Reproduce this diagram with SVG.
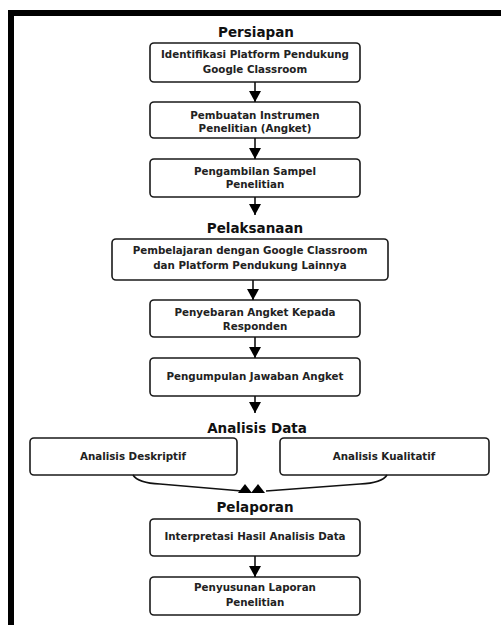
<svg xmlns="http://www.w3.org/2000/svg" width="501" height="625" viewBox="0 0 501 625">
<defs>
<style>
.box{fill:#fff;stroke:#1a1a1a;stroke-width:1.6}
.t{font-family:"DejaVu Sans","Liberation Sans",sans-serif;font-size:10.3px;font-weight:bold;fill:#222;text-anchor:middle}
.h{font-family:"DejaVu Sans","Liberation Sans",sans-serif;font-size:13.5px;font-weight:bold;fill:#111;text-anchor:middle}
.c{fill:none;stroke:#111;stroke-width:1.6}
</style>
<marker id="ah" markerUnits="userSpaceOnUse" markerWidth="12" markerHeight="12" refX="11" refY="6" orient="auto">
<path d="M0,0 L11,6 L0,12 z" fill="#000"/>
</marker>
</defs>
<rect width="501" height="625" fill="#fff"/>
<g id="frame">
<path d="M8,13 H501" stroke="#000" stroke-width="6"/>
<path d="M11,10 V625" stroke="#000" stroke-width="6"/>
</g>
<g id="headings">
<text class="h" x="256" y="37">Persiapan</text>
<text class="h" x="255" y="233">Pelaksanaan</text>
<text class="h" x="257" y="433">Analisis Data</text>
<text class="h" x="255" y="512">Pelaporan</text>
</g>
<g id="n1"><rect class="box" x="150" y="43" width="210" height="39" rx="4"/><text class="t" x="255" y="58">Identifikasi Platform Pendukung</text><text class="t" x="255" y="73">Google Classroom</text></g>
<g id="n2"><rect class="box" x="150" y="102" width="210" height="36" rx="4"/><text class="t" x="255" y="119">Pembuatan Instrumen</text><text class="t" x="255" y="132">Penelitian (Angket)</text></g>
<g id="n3"><rect class="box" x="150" y="159" width="210" height="38" rx="4"/><text class="t" x="255" y="175">Pengambilan Sampel</text><text class="t" x="255" y="188">Penelitian</text></g>
<g id="n4"><rect class="box" x="112" y="239" width="276" height="41" rx="4"/><text class="t" x="250" y="254">Pembelajaran dengan Google Classroom</text><text class="t" x="250" y="269">dan Platform Pendukung Lainnya</text></g>
<g id="n5"><rect class="box" x="150" y="300" width="210" height="37" rx="4"/><text class="t" x="255" y="316">Penyebaran Angket Kepada</text><text class="t" x="255" y="330">Responden</text></g>
<g id="n6"><rect class="box" x="150" y="358" width="210" height="38" rx="4"/><text class="t" x="255" y="380">Pengumpulan Jawaban Angket</text></g>
<g id="n7"><rect class="box" x="30" y="438" width="207" height="37" rx="4"/><text class="t" x="133" y="460">Analisis Deskriptif</text></g>
<g id="n8"><rect class="box" x="280" y="438" width="209" height="37" rx="4"/><text class="t" x="384" y="460">Analisis Kualitatif</text></g>
<g id="n9"><rect class="box" x="150" y="519" width="210" height="37" rx="4"/><text class="t" x="255" y="540">Interpretasi Hasil Analisis Data</text></g>
<g id="n10"><rect class="box" x="150" y="577" width="210" height="38" rx="4"/><text class="t" x="255" y="591">Penyusunan Laporan</text><text class="t" x="255" y="606">Penelitian</text></g>
<g id="connectors">
<path class="c" d="M255,82 V102" marker-end="url(#ah)"/>
<path class="c" d="M255,138 V159" marker-end="url(#ah)"/>
<path class="c" d="M255,197 V215" marker-end="url(#ah)"/>
<path class="c" d="M253,280 V300" marker-end="url(#ah)"/>
<path class="c" d="M255,337 V358" marker-end="url(#ah)"/>
<path class="c" d="M255,396 V413" marker-end="url(#ah)"/>
<path class="c" d="M255,556 V577" marker-end="url(#ah)"/>
<path class="c" d="M133,475 Q138,483 160,484 L242,491"/>
<path class="c" d="M387,475 Q382,483 360,484 L266,491"/>
<path d="M238,493 L245,484 L252,493 z" fill="#000"/>
<path d="M251,493 L258,484 L265,493 z" fill="#000"/>
</g>
</svg>
